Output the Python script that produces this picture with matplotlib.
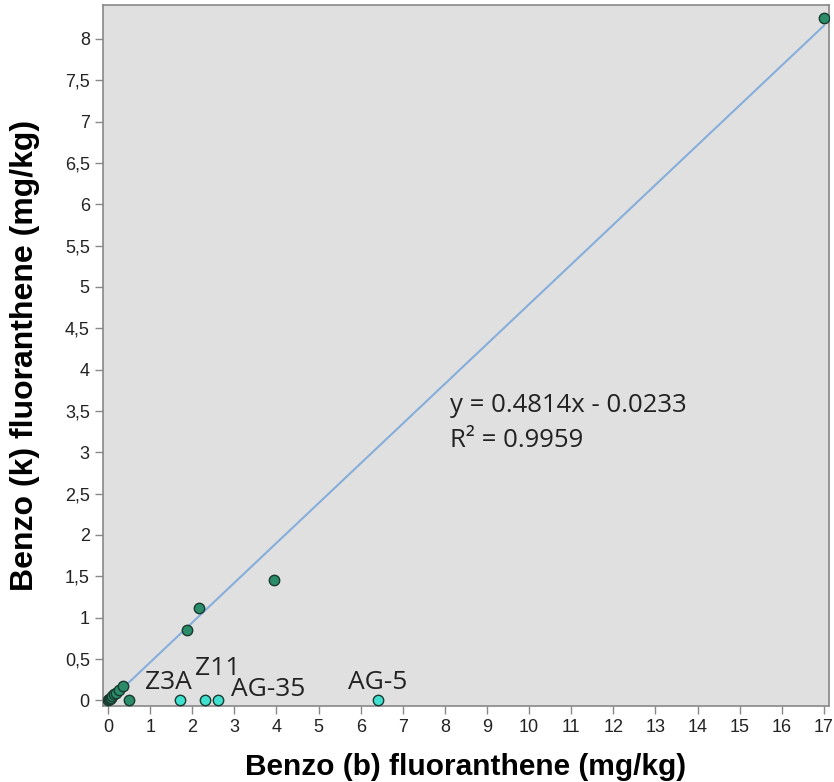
import numpy as np
import matplotlib.pyplot as plt
from matplotlib.ticker import FuncFormatter

# Benzo (b) vs Benzo (k) fluoranthene, mg/kg
bbf = [0.0, 0.02, 0.05, 0.08, 0.1, 0.15, 0.2, 0.25, 0.35, 0.5, 1.87, 2.15, 3.95, 17.0]
bkf = [0.0, 0.01, 0.02, 0.03, 0.05, 0.07, 0.09, 0.12, 0.17, 0.0, 0.85, 1.12, 1.45, 8.25]

# outliers (excluded from fit)
out_x = [1.7, 2.3, 2.6, 6.4]
out_y = [0.0, 0.0, 0.0, 0.0]
out_labels = ['Z3A', 'Z11', 'AG-35', 'AG-5']
label_pos = [(1.43, 0.13), (2.61, 0.31), (3.8, 0.05), (6.41, 0.13)]

slope, intercept = 0.4814, -0.0233
r2 = 0.9959
x_ticks = np.arange(0, 18, 1)
y_ticks = np.arange(0, 8.5, 0.5)

fig = plt.figure(figsize=(8.34, 7.82), dpi=100)
ax = fig.add_axes([0.1235, 0.0972, 0.8705, 0.8964])
ax.set_facecolor('#e0e0e0')

xl = np.array([0.05, 17.0])
ax.plot(xl, slope * xl + intercept, color='#86aedb', lw=1.5, zorder=2)

ax.plot(bbf, bkf, 'o', ms=7.5, mfc='#2a8c68', mec='#1a3a30', mew=1, zorder=3)
ax.plot(out_x, out_y, 'o', ms=7.5, mfc='#40e0d0', mec='#1a3a30', mew=1, zorder=3)

for lab, (lx, ly) in zip(out_labels, label_pos):
    ax.text(lx, ly, lab, fontsize=19, family='Open Sans', ha='center',
            va='baseline', color='#222222')

ax.text(8.12, 3.49, 'y = 0.4814x - 0.0233', fontsize=18.5, family='Open Sans',
        va='baseline', color='#222222')
ax.text(8.12, 3.06, 'R² = %.4f' % r2, fontsize=18.5, family='Open Sans',
        va='baseline', color='#222222')

ax.set_xlim(-0.12, 17.12)
ax.set_ylim(-0.07, 8.41)
ax.set_xticks(x_ticks)
ax.set_yticks(y_ticks)
fmt = FuncFormatter(lambda v, p: ('%g' % v).replace('.', ','))
ax.xaxis.set_major_formatter(fmt)
ax.yaxis.set_major_formatter(fmt)
ax.tick_params(axis='both', colors='#888888', labelcolor='#222222',
               labelsize=13, length=6, width=1)
for lbl in ax.get_xticklabels() + ax.get_yticklabels():
    lbl.set_family('Liberation Sans')

for s in ax.spines.values():
    s.set_color('#888888')
    s.set_linewidth(1.2)

ax.set_xlabel('Benzo (b) fluoranthene (mg/kg)', fontsize=21.5, fontweight='bold',
              family='Liberation Sans', labelpad=12)
ax.set_ylabel('Benzo (k) fluoranthene (mg/kg)', fontsize=23, fontweight='bold',
              family='Liberation Sans', labelpad=18)

fig.savefig('out.png', dpi=100)
